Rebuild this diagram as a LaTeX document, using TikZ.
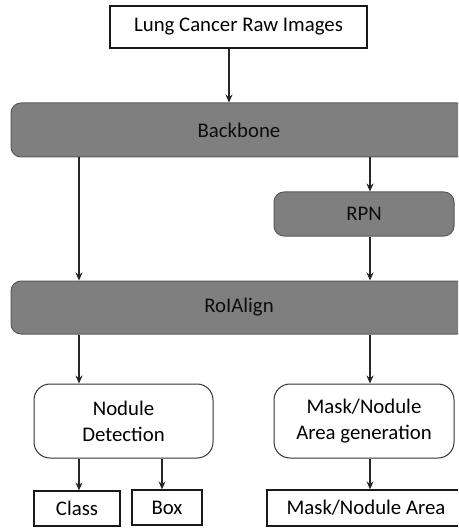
\documentclass[tikz,border=0pt]{standalone}
\usepackage{fontspec}
\setmainfont{Carlito}
\usetikzlibrary{positioning,arrows.meta}
\definecolor{stagegray}{HTML}{7F7F7F}
\definecolor{stageline}{HTML}{5A5A5A}
\tikzset{
  plainbox/.style={draw=black!90, line width=1.3pt, fill=white, inner sep=0pt, align=center},
  stagebox/.style={draw=stageline, line width=1pt, fill=stagegray, rounded corners=10pt, inner sep=0pt, align=center, text=black!95},
  headbox/.style={draw=black!80, line width=1pt, fill=white, rounded corners=16pt, inner sep=0pt, align=center},
  arr/.style={draw=black!85, line width=1.1pt, -{Stealth[length=8pt,width=7pt]}}
}

\begin{document}
\begin{tikzpicture}[x=1pt, y=-1pt, font=\fontsize{20.8}{26}\selectfont]
  \useasboundingbox (0,0) rectangle (458,529);
  \clip (0,0) rectangle (458,529);

  % columns of the connectors
  \coordinate (cm) at (229,0);
  \coordinate (cl) at (79,0);
  \coordinate (cr) at (370,0);
  \coordinate (cb) at (162,0);

  % input
  \node[plainbox, minimum width=257pt, minimum height=42pt] (raw) at (238.5,27) {Lung Cancer Raw Images};

  % shared stages
  \node[stagebox, minimum width=456pt, minimum height=54pt] (backbone) at (239,130) {Backbone};
  \node[stagebox, minimum width=180pt, minimum height=44pt] (rpn) at (364,214) {RPN};
  \node[stagebox, minimum width=456pt, minimum height=53pt] (roialign) at (239,307.5) {RoIAlign};

  % heads
  \node[headbox, minimum width=179pt, minimum height=74pt] (det) at (123.5,421) {Nodule\\Detection};
  \node[headbox, minimum width=180pt, minimum height=74pt] (gen) at (364,421) {Mask/Nodule\\Area generation};

  % outputs
  \node[plainbox, minimum width=86pt, minimum height=35pt] (cls) at (77,508.5) {Class};
  \node[plainbox, minimum width=70pt, minimum height=35pt] (bbox) at (167,507.5) {Box};
  \node[plainbox, minimum width=198pt, minimum height=36pt] (area) at (366,508) {Mask/Nodule Area};

  % connectors
  \draw[arr] (raw.south -| cm) -- (backbone.north -| cm);
  \draw[arr] (backbone.south -| cl) -- (roialign.north -| cl);
  \draw[arr] (backbone.south -| cr) -- (rpn.north -| cr);
  \draw[arr] (rpn.south -| cr) -- (roialign.north -| cr);
  \draw[arr] (roialign.south -| cl) -- (det.north -| cl);
  \draw[arr] (roialign.south -| cr) -- (gen.north -| cr);
  \draw[arr] (det.south -| cl) -- (cls.north -| cl);
  \draw[arr] (det.south -| cb) -- (bbox.north -| cb);
  \draw[arr] (gen.south -| cr) -- (area.north -| cr);
\end{tikzpicture}
\end{document}
